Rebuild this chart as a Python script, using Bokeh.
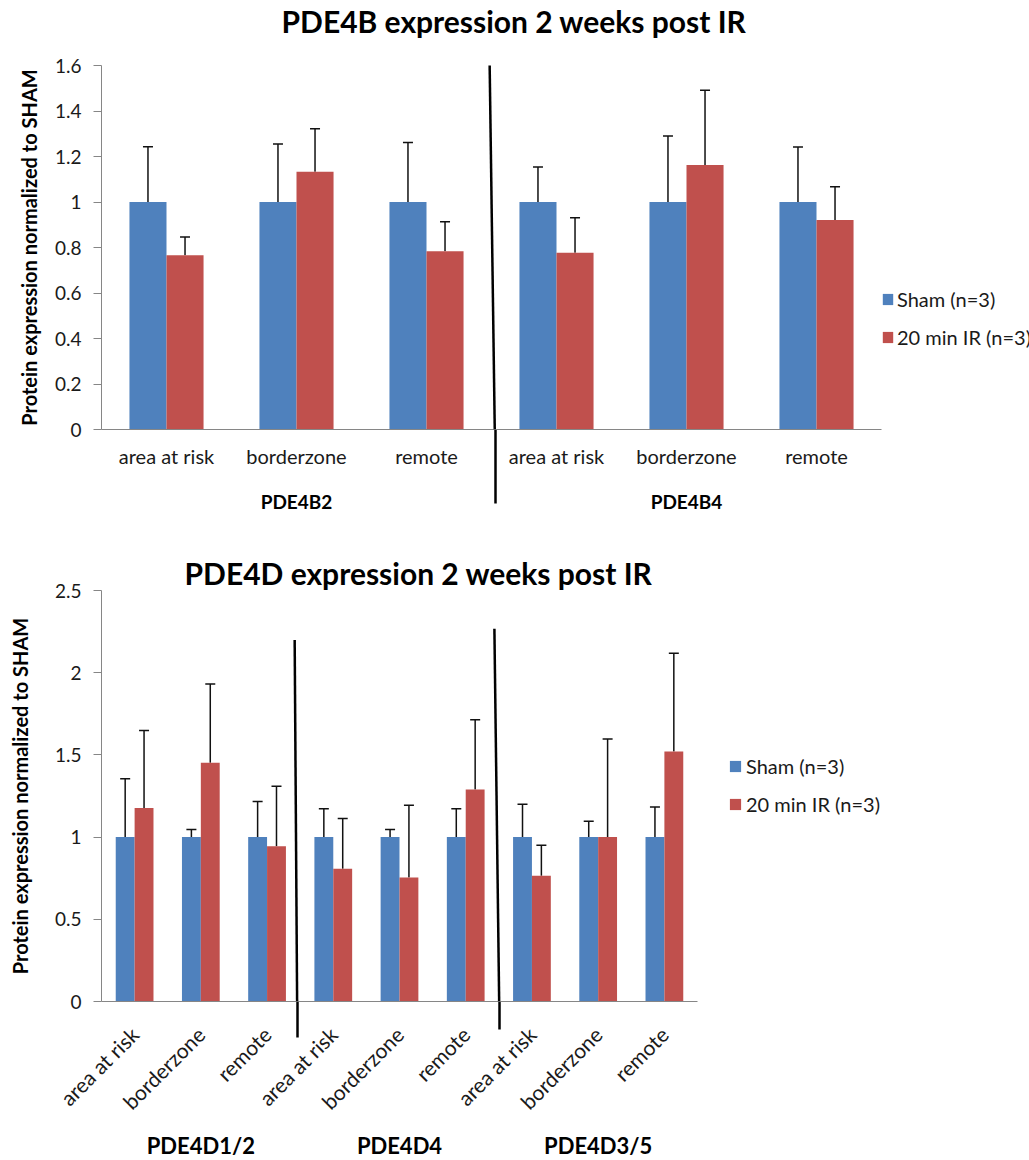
from bokeh.plotting import figure
from bokeh.models import (FactorRange, Range1d, ColumnDataSource, Whisker, TeeHead,
                          Legend, LegendItem, FixedTicker, Arrow, Title, LinearAxis,
                          CategoricalAxis, CustomJSTickFormatter)
from bokeh.transform import dodge
from bokeh.layouts import column
from bokeh.embed import file_html
from bokeh.resources import INLINE

# ---------------- data ----------------
regions = ["area at risk", "borderzone", "remote"]

top_title = "PDE4B expression 2 weeks post IR"
top_groups = ["PDE4B2", "PDE4B4"]
top_sham = [1.0, 1.0, 1.0, 1.0, 1.0, 1.0]
top_sham_err = [0.243, 0.255, 0.261, 0.154, 0.290, 0.242]
top_ir = [0.766, 1.133, 0.784, 0.777, 1.163, 0.921]
top_ir_err = [0.080, 0.189, 0.129, 0.154, 0.328, 0.146]
top_ticks = [0, 0.2, 0.4, 0.6, 0.8, 1, 1.2, 1.4, 1.6]
top_tick_labels = ["0", "0.2", "0.4", "0.6", "0.8", "1", "1.2", "1.4", "1.6"]

bot_title = "PDE4D expression 2 weeks post IR"
bot_groups = ["PDE4D1/2", "PDE4D4", "PDE4D3/5"]
bot_sham = [1.0, 1.0, 1.0, 1.0, 1.0, 1.0, 1.0, 1.0, 1.0]
bot_sham_err = [0.355, 0.046, 0.217, 0.173, 0.046, 0.173, 0.200, 0.097, 0.183]
bot_ir = [1.177, 1.452, 0.945, 0.808, 0.755, 1.289, 0.765, 1.000, 1.520]
bot_ir_err = [0.471, 0.479, 0.365, 0.305, 0.438, 0.425, 0.185, 0.597, 0.598]
bot_ticks = [0, 0.5, 1, 1.5, 2, 2.5]
bot_tick_labels = ["0", "0.5", "1", "1.5", "2", "2.5"]

series_names = ["Sham (n=3)", "20 min IR (n=3)"]
y_title = "Protein expression normalized to SHAM"

BLUE = "#4F81BD"
RED = "#C0504D"
AXIS = "#868686"
TXT = "#1a1a1a"
FONT = "Lato"


def make_chart(title, groups, sham, sham_err, ir, ir_err, ticks, tick_labels,
               frame_w, frame_h, left, right, top, bottom,
               title_offset, spacer_standoff,
               label_orient, label_size, label_standoff, group_size, group_standoff,
               ylabel_standoff, legend_loc, legend_glyph_w, legend_standoff,
               dividers, below_dividers):
    factors = [g + "|" + r for g in groups for r in regions]
    src = ColumnDataSource(dict(
        x=factors,
        sham=sham,
        ir=ir,
        sham_up=[v + e for v, e in zip(sham, sham_err)],
        ir_up=[v + e for v, e in zip(ir, ir_err)],
    ))
    xr = FactorRange(*factors, factor_padding=0, range_padding=0)
    p = figure(x_range=xr, y_range=Range1d(ticks[0], ticks[-1]), title=None,
               frame_width=frame_w, frame_height=frame_h,
               min_border_left=left, min_border_right=right,
               min_border_top=top, min_border_bottom=bottom,
               output_backend="svg", toolbar_location=None, tools="")
    p.outline_line_color = None
    p.xgrid.grid_line_color = None
    p.ygrid.grid_line_color = None

    bw = 0.285
    r1 = p.vbar(x=dodge("x", -bw / 2, range=xr), top="sham", width=bw, source=src,
                fill_color=BLUE, line_color=None)
    r2 = p.vbar(x=dodge("x", bw / 2, range=xr), top="ir", width=bw, source=src,
                fill_color=RED, line_color=None)

    for off, lo, up in [(-bw / 2, "sham", "sham_up"), (bw / 2, "ir", "ir_up")]:
        w = Whisker(base=dodge("x", off, range=xr), lower=lo, upper=up, source=src,
                    line_color="#111111", line_width=1.5, lower_head=None,
                    upper_head=TeeHead(size=10, line_color="#111111", line_width=1.5))
        p.add_layout(w)

    # divider lines inside the plot area
    for (x0, y0, x1, y1) in dividers:
        p.add_layout(Arrow(x_start=x0, y_start=y0, x_end=x1, y_end=y1, end=None,
                           line_color="black", line_width=2.5))

    # titles: spacer first (nearest the frame), then the real title
    if spacer_standoff is not None:
        p.add_layout(Title(text=" ", text_font_size="10px", standoff=spacer_standoff),
                     "above")
    p.add_layout(Title(text=title, text_font=FONT, text_font_size="30px",
                       text_font_style="bold", text_color="black", align="left",
                       offset=title_offset, standoff=0, vertical_align="bottom"),
                 "above")

    # y axis
    ya = p.yaxis[0]
    ya.ticker = FixedTicker(ticks=ticks, minor_ticks=[])
    ya.major_label_overrides = {t: l for t, l in zip(ticks, tick_labels)}
    ya.axis_line_color = AXIS
    ya.major_tick_line_color = AXIS
    ya.major_tick_in = 0
    ya.major_tick_out = 8
    ya.minor_tick_line_color = None
    ya.major_label_standoff = 12
    ya.major_label_text_font = FONT
    ya.major_label_text_font_size = "19px"
    ya.major_label_text_color = TXT
    ya.axis_label = y_title
    ya.axis_label_text_font = FONT
    ya.axis_label_text_font_size = "20px"
    ya.axis_label_text_font_style = "bold"
    ya.axis_label_text_color = "black"
    ya.axis_label_standoff = ylabel_standoff

    # categorical x axis: region names
    xa = p.xaxis[0]
    xa.formatter = CustomJSTickFormatter(code="return tick.split('|')[1];")
    xa.axis_line_color = AXIS
    xa.major_tick_line_color = None
    xa.major_tick_out = 0
    xa.major_tick_in = 0
    xa.major_label_orientation = label_orient
    xa.major_label_standoff = label_standoff
    xa.major_label_text_font = FONT
    xa.major_label_text_font_size = label_size
    xa.major_label_text_color = TXT

    # second categorical axis: group names
    p.extra_x_ranges = {"groups": FactorRange(*groups, factor_padding=0, range_padding=0)}
    ga = CategoricalAxis(x_range_name="groups")
    ga.axis_line_color = None
    ga.major_tick_line_color = None
    ga.major_tick_out = 0
    ga.major_tick_in = 0
    ga.major_label_orientation = "horizontal"
    ga.major_label_standoff = group_standoff
    ga.major_label_text_font = FONT
    ga.major_label_text_font_size = group_size
    ga.major_label_text_font_style = "bold"
    ga.major_label_text_color = "black"

    # divider continuation below the axis: axes with one long tick each, no labels
    div_axes = []
    for (xpos, length) in below_dividers:
        da = LinearAxis(ticker=FixedTicker(ticks=[xpos], minor_ticks=[]))
        da.axis_line_color = None
        da.minor_tick_line_color = None
        da.major_tick_line_color = "black"
        da.major_tick_line_width = 2.5
        da.major_tick_out = 0
        da.major_tick_in = -length
        da.major_label_text_color = None
        da.major_label_text_font_size = "0px"
        da.major_label_standoff = 0
        div_axes.append(da)
    p.below = div_axes + [xa, ga]

    legend = Legend(items=[LegendItem(label=series_names[0], renderers=[r1]),
                           LegendItem(label=series_names[1], renderers=[r2])],
                    location=legend_loc, orientation="vertical",
                    padding=0, margin=0, spacing=14,
                    glyph_width=legend_glyph_w, glyph_height=14, label_height=22,
                    label_standoff=legend_standoff, border_line_color=None,
                    background_fill_alpha=0,
                    label_text_font=FONT, label_text_font_size="20px",
                    label_text_color=TXT)
    p.add_layout(legend, "right")
    return p


p1 = make_chart(top_title, top_groups, top_sham, top_sham_err, top_ir, top_ir_err,
                top_ticks, top_tick_labels,
                780, 364, 96, 151, 64, 109, 180, 14,
                "horizontal", "20px", 14, "19px", 19, 11, (0, 80), 13, 3,
                [(2.985, 1.634, 3.025, 0.0)], [(3.03, 74)])

p2 = make_chart(bot_title, bot_groups, bot_sham, bot_sham_err, bot_ir, bot_ir_err,
                bot_ticks, bot_tick_labels,
                596, 411, 101, 320, 52, 159, 83, None,
                0.785398, "21px", 29, "22px", 6, 20, (31, 185), 14, 4,
                [(2.917, 2.199, 2.954, 0.0), (5.933, 2.267, 6.005, 0.0)],
                [(2.954, 36), (6.005, 28)])

layout = column(p1, p2, spacing=0)
open("out.html", "w").write(file_html(layout, INLINE))
